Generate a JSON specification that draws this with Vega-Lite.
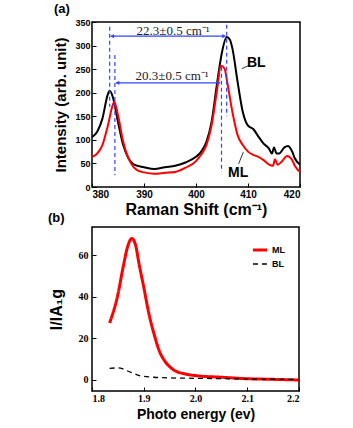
{
  "$schema": "https://vega.github.io/schema/vega-lite/v6.json",
  "background": "white",
  "padding": {"left": 47, "top": 2, "right": 5, "bottom": 5},
  "bounds": "flush",
  "spacing": 40,
  "resolve": {"scale": {"color": "independent", "strokeDash": "independent", "strokeWidth": "independent"}, "legend": {"color": "independent", "strokeDash": "independent"}},
  "config": {
    "view": {"stroke": "black", "strokeWidth": 1.5},
    "axis": {"grid": false, "domain": false, "tickColor": "black", "tickSize": -4, "labelColor": "black", "titleColor": "black", "labelFontWeight": "bold", "titleFontWeight": "bold", "titleFont": "Liberation Sans", "labelFont": "Liberation Sans", "labelOverlap": false},
    "title": {"font": "Liberation Sans", "fontWeight": "bold", "fontSize": 13, "anchor": "start", "color": "black"}
  },
  "vconcat": [
    {
      "width": 208,
      "height": 165,
      "title": {"text": "(a)", "offset": 2},
      "encoding": {
        "x": {"field": "x", "type": "quantitative", "scale": {"domain": [380, 420], "nice": false, "zero": false},
              "axis": {"values": [380, 390, 400, 410, 420], "title": "Raman  Shift (cm⁻¹)", "titleFontSize": 16, "labelFontSize": 10, "labelPadding": 6, "titlePadding": 2}},
        "y": {"field": "y", "type": "quantitative", "scale": {"domain": [0, 350], "nice": false},
              "axis": {"values": [0, 50, 100, 150, 200, 250, 300, 350], "title": "Intensity (arb. unit)", "titleFontSize": 15, "labelFontSize": 9, "labelPadding": 6, "titlePadding": 6}}
      },
      "layer": [
        {
          "data": {"values": [
            {"x":380,"y":106,"s":"BL"},{"x":381,"y":117,"s":"BL"},{"x":382,"y":145,"s":"BL"},{"x":383,"y":195,"s":"BL"},{"x":383.4,"y":204,"s":"BL"},{"x":384,"y":191,"s":"BL"},{"x":385,"y":138,"s":"BL"},{"x":386,"y":89,"s":"BL"},{"x":387,"y":61,"s":"BL"},{"x":388,"y":48,"s":"BL"},{"x":390,"y":42,"s":"BL"},{"x":392,"y":38,"s":"BL"},{"x":394,"y":42,"s":"BL"},{"x":396,"y":45,"s":"BL"},{"x":398,"y":52,"s":"BL"},{"x":400,"y":64,"s":"BL"},{"x":401,"y":75,"s":"BL"},{"x":402,"y":96,"s":"BL"},{"x":403,"y":138,"s":"BL"},{"x":404,"y":216,"s":"BL"},{"x":405,"y":286,"s":"BL"},{"x":405.9,"y":318,"s":"BL"},{"x":406.5,"y":313,"s":"BL"},{"x":407,"y":294,"s":"BL"},{"x":408,"y":223,"s":"BL"},{"x":409,"y":159,"s":"BL"},{"x":410,"y":130,"s":"BL"},{"x":411,"y":123,"s":"BL"},{"x":412,"y":107,"s":"BL"},{"x":413,"y":92,"s":"BL"},{"x":414,"y":82,"s":"BL"},{"x":414.6,"y":71,"s":"BL"},{"x":415,"y":84,"s":"BL"},{"x":415.5,"y":71,"s":"BL"},{"x":416,"y":71,"s":"BL"},{"x":417,"y":84,"s":"BL"},{"x":417.7,"y":87,"s":"BL"},{"x":418.5,"y":75,"s":"BL"},{"x":419,"y":61,"s":"BL"},{"x":420,"y":47,"s":"BL"},
            {"x":380,"y":64,"s":"ML"},{"x":381,"y":71,"s":"ML"},{"x":382,"y":89,"s":"ML"},{"x":383,"y":128,"s":"ML"},{"x":384,"y":174,"s":"ML"},{"x":384.3,"y":181,"s":"ML"},{"x":385,"y":152,"s":"ML"},{"x":386,"y":96,"s":"ML"},{"x":387,"y":61,"s":"ML"},{"x":388,"y":42,"s":"ML"},{"x":389,"y":34,"s":"ML"},{"x":390,"y":31,"s":"ML"},{"x":392,"y":28,"s":"ML"},{"x":394,"y":30,"s":"ML"},{"x":396,"y":32,"s":"ML"},{"x":398,"y":41,"s":"ML"},{"x":400,"y":55,"s":"ML"},{"x":401,"y":69,"s":"ML"},{"x":402,"y":89,"s":"ML"},{"x":403,"y":131,"s":"ML"},{"x":404,"y":202,"s":"ML"},{"x":404.8,"y":257,"s":"ML"},{"x":405.5,"y":251,"s":"ML"},{"x":406,"y":223,"s":"ML"},{"x":407,"y":159,"s":"ML"},{"x":408,"y":110,"s":"ML"},{"x":409,"y":89,"s":"ML"},{"x":410,"y":75,"s":"ML"},{"x":411,"y":68,"s":"ML"},{"x":412,"y":64,"s":"ML"},{"x":413,"y":57,"s":"ML"},{"x":414,"y":48,"s":"ML"},{"x":414.8,"y":45,"s":"ML"},{"x":415.2,"y":59,"s":"ML"},{"x":415.7,"y":47,"s":"ML"},{"x":416.5,"y":54,"s":"ML"},{"x":417.5,"y":66,"s":"ML"},{"x":418.5,"y":57,"s":"ML"},{"x":419,"y":45,"s":"ML"},{"x":420,"y":32,"s":"ML"}
          ]},
          "mark": {"type": "line", "strokeWidth": 2, "interpolate": "monotone"},
          "encoding": {
            "color": {"field": "s", "type": "nominal", "scale": {"domain": ["BL", "ML"], "range": ["black", "#ff0000"]}, "legend": null},
            "detail": {"field": "s"}
          }
        },
        {
          "data": {"values": [
            {"x": 383.4, "y": 340, "y2": 170},
            {"x": 384.4, "y": 280, "y2": 25},
            {"x": 404.9, "y": 255, "y2": 32},
            {"x": 405.9, "y": 344, "y2": 150}
          ]},
          "mark": {"type": "rule", "color": "#3344ff", "strokeWidth": 1.2, "strokeDash": [4, 3]},
          "encoding": {"y2": {"field": "y2"}}
        },
        {
          "data": {"values": [
            {"x": 383.6, "x2": 405.6, "y": 320},
            {"x": 384.6, "x2": 404.6, "y": 221}
          ]},
          "mark": {"type": "rule", "color": "#3344ff", "strokeWidth": 1.2},
          "encoding": {"x2": {"field": "x2"}}
        },
        {
          "data": {"values": [
            {"x": 383.9, "y": 320, "sh": "triangle-left"},
            {"x": 405.4, "y": 320, "sh": "triangle-right"},
            {"x": 384.9, "y": 221, "sh": "triangle-left"},
            {"x": 404.4, "y": 221, "sh": "triangle-right"}
          ]},
          "mark": {"type": "point", "filled": true, "color": "#3344ff", "size": 18, "opacity": 1},
          "encoding": {"shape": {"field": "sh", "type": "nominal", "scale": null}}
        },
        {
          "data": {"values": [
            {"x": 395.6, "y": 323, "t": "22.3±0.5 cm⁻¹"},
            {"x": 395.4, "y": 228, "t": "20.3±0.5 cm⁻¹"}
          ]},
          "mark": {"type": "text", "font": "Liberation Serif", "fontSize": 13, "color": "#222222", "baseline": "alphabetic"},
          "encoding": {"text": {"field": "t"}}
        },
        {
          "data": {"values": [
            {"x": 411.6, "y": 262, "t": "BL"},
            {"x": 408.1, "y": 29, "t": "ML"}
          ]},
          "mark": {"type": "text", "font": "Liberation Sans", "fontWeight": "bold", "fontSize": 14, "color": "black", "baseline": "middle"},
          "encoding": {"text": {"field": "t"}}
        },
        {
          "data": {"values": [
            {"x": 410.2, "x2": 408.8, "y": 258, "y2": 251},
            {"x": 408.2, "x2": 409.1, "y": 49, "y2": 74}
          ]},
          "mark": {"type": "rule", "color": "black", "strokeWidth": 0.8},
          "encoding": {"x2": {"field": "x2"}, "y2": {"field": "y2"}}
        }
      ]
    },
    {
      "width": 207,
      "height": 164,
      "title": {"text": "(b)", "offset": 2},
      "data": {"values": [
        {"x":1.834,"y":27.4,"s":"ML"},{"x":1.85,"y":41,"s":"ML"},{"x":1.86,"y":54,"s":"ML"},{"x":1.87,"y":65,"s":"ML"},{"x":1.877,"y":68,"s":"ML"},{"x":1.885,"y":64,"s":"ML"},{"x":1.89,"y":57,"s":"ML"},{"x":1.9,"y":44.6,"s":"ML"},{"x":1.91,"y":31.8,"s":"ML"},{"x":1.92,"y":22,"s":"ML"},{"x":1.93,"y":14,"s":"ML"},{"x":1.94,"y":9.3,"s":"ML"},{"x":1.95,"y":6.4,"s":"ML"},{"x":1.96,"y":4.5,"s":"ML"},{"x":1.98,"y":2.9,"s":"ML"},{"x":2.0,"y":2.1,"s":"ML"},{"x":2.05,"y":1.3,"s":"ML"},{"x":2.1,"y":0.6,"s":"ML"},{"x":2.15,"y":0.3,"s":"ML"},{"x":2.2,"y":0,"s":"ML"},
        {"x":1.834,"y":5.6,"s":"BL"},{"x":1.85,"y":5.8,"s":"BL"},{"x":1.86,"y":5.3,"s":"BL"},{"x":1.87,"y":4.2,"s":"BL"},{"x":1.88,"y":3.2,"s":"BL"},{"x":1.89,"y":2.2,"s":"BL"},{"x":1.9,"y":1.8,"s":"BL"},{"x":1.92,"y":1.3,"s":"BL"},{"x":1.95,"y":1.0,"s":"BL"},{"x":2.0,"y":0.8,"s":"BL"},{"x":2.1,"y":0.5,"s":"BL"},{"x":2.2,"y":0.2,"s":"BL"}
      ]},
      "mark": {"type": "line", "interpolate": "monotone"},
      "encoding": {
        "x": {"field": "x", "type": "quantitative", "scale": {"domain": [1.8, 2.2], "nice": false, "zero": false},
              "axis": {"values": [1.8, 1.9, 2.0, 2.1, 2.2], "format": ".1f", "title": "Photo energy (ev)", "titleFontSize": 14, "labelFont": "Liberation Serif", "labelFontSize": 10, "labelPadding": 6, "titlePadding": 4}},
        "y": {"field": "y", "type": "quantitative", "scale": {"domain": [-5.3, 73.5], "nice": false, "zero": false},
              "axis": {"values": [0, 20, 40, 60], "title": "I/IA₁g", "titleFontSize": 16, "labelFont": "Liberation Serif", "labelFontSize": 10, "labelPadding": 8, "titlePadding": 14}},
        "color": {"field": "s", "type": "nominal", "scale": {"domain": ["ML", "BL"], "range": ["#ff0000", "black"]},
                  "legend": {"orient": "top-right", "title": null, "symbolType": "stroke", "symbolSize": 200, "labelFont": "Liberation Sans", "labelFontWeight": "bold", "labelFontSize": 9, "symbolStrokeWidth": 2.5, "rowPadding": 0, "offset": 14, "labelOffset": 3}},
        "strokeDash": {"field": "s", "type": "nominal", "scale": {"domain": ["ML", "BL"], "range": [[1, 0], [5, 4]]}},
        "strokeWidth": {"field": "s", "type": "nominal", "scale": {"domain": ["ML", "BL"], "range": [3, 1.3]}, "legend": null}
      }
    }
  ]
}
